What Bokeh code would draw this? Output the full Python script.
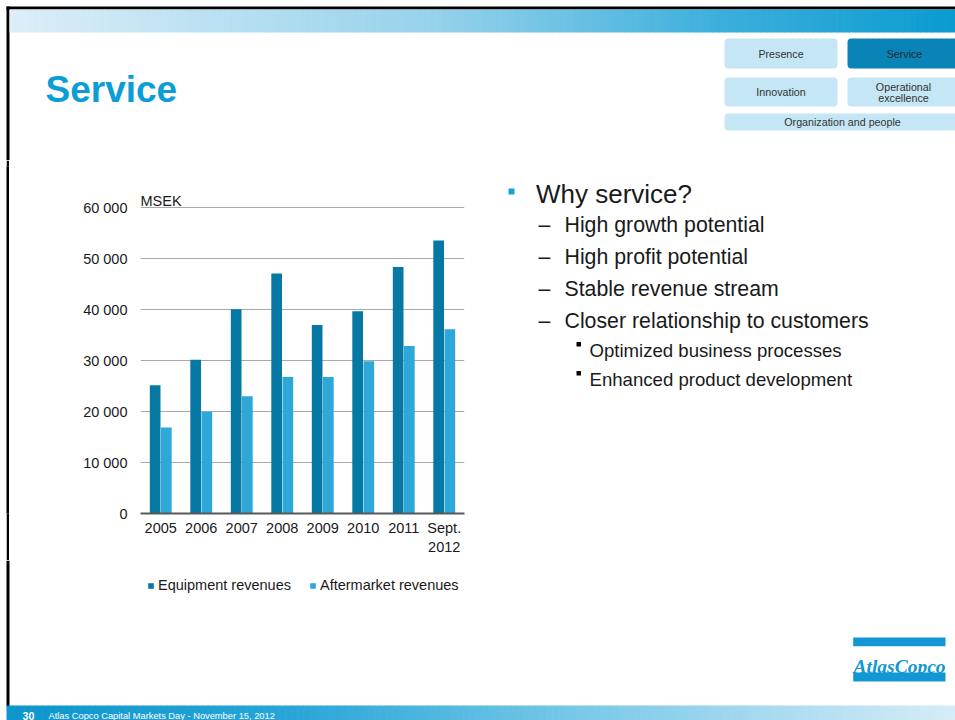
import numpy as np
from bokeh.plotting import figure
from bokeh.models import (Range1d, FactorRange, FixedTicker, Legend, LegendItem,
                          ColumnDataSource, Spacer)
from bokeh.layouts import row, column
from bokeh.transform import dodge
from bokeh.core.properties import value
from bokeh.embed import file_html
from bokeh.resources import INLINE

# ---------------- data ----------------
years = ["2005", "2006", "2007", "2008", "2009", "2010", "2011", "Sept.\n2012"]
equipment = [25200, 30200, 40100, 47100, 37000, 39700, 48400, 53600]
aftermarket = [16900, 20000, 23000, 26800, 26800, 29900, 32900, 36200]
y_ticks = [0, 10000, 20000, 30000, 40000, 50000, 60000]
y_tick_labels = ["0", "10 000", "20 000", "30 000", "40 000", "50 000", "60 000"]
series_names = ["Equipment revenues", "Aftermarket revenues"]
unit_label = "MSEK"

title_text = "Service"
nav_labels = ["Presence", "Service", "Innovation", "Operational", "excellence", "Organization and people"]
bullet_l1 = "Why service?"
bullets_l2 = ["High growth potential", "High profit potential", "Stable revenue stream",
              "Closer relationship to customers"]
bullets_l3 = ["Optimized business processes", "Enhanced product development"]
footer_page = "30"
footer_text = "Atlas Copco Capital Markets Day - November 15, 2012"
logo_text = "AtlasCopco"

FONT = "Liberation Sans"
F = value(FONT)
EQ_COLOR = "#0579a3"
AM_COLOR = "#2da8d8"
BLUE = "#0b9dd5"
INK = "#1a1a1a"

MID_TOP, MID_H = 160, 400          # middle band: y 160..560
BT, BB = 6, 47                      # shared top / bottom borders of the middle band
FRAME_TOP = MID_TOP + BT            # 166
FRAME_BOT = MID_TOP + MID_H - BB    # 513


def canvas(w, h, x0, x1, y0, y1, **kw):
    c = figure(width=w, height=h, x_range=Range1d(x0, x1), y_range=Range1d(y1, y0),
               toolbar_location=None, output_backend="svg",
               x_axis_location=None, y_axis_location=None, **kw)
    c.grid.visible = False
    c.outline_line_color = None
    c.background_fill_color = "white"
    c.border_fill_color = "white"
    return c


def gradient(c, x0, x1, top, bottom, stops, n=160):
    xs = np.linspace(x0, x1, n + 1)
    pos = (xs[:-1] + xs[1:]) / 2
    t = (pos - x0) / (x1 - x0)
    sp = [s[0] for s in stops]
    cols = []
    for tt in t:
        rgb = [int(round(np.interp(tt, sp, [s[1][k] for s in stops]))) for k in range(3)]
        cols.append("#%02x%02x%02x" % tuple(rgb))
    c.quad(left=xs[:-1], right=xs[1:] + 0.6, top=top, bottom=bottom,
           fill_color=cols, line_color=None)


# ---------------- header (y 0..160) ----------------
hdr = canvas(955, 160, 0, 955, 0, 160, min_border=0)
hdr.quad(left=[6], right=[9], top=[6], bottom=[160], fill_color="black", line_color=None)
hdr.quad(left=[6], right=[955], top=[6], bottom=[9], fill_color="black", line_color=None)
gradient(hdr, 9, 955, 9, 32,
         [(0.0, (220, 238, 248)), (0.45, (150, 210, 235)), (0.75, (60, 175, 220)), (1.0, (10, 155, 208))])
hdr.text(x=[45], y=[89], text=[title_text], text_font=F, text_font_size="37px",
         text_font_style="bold", text_color=BLUE, text_baseline="alphabetic", text_align="left")

nav_l = [724, 847, 724, 847, 724]
nav_r = [837, 962, 837, 962, 962]
nav_t = [38, 38, 77, 77, 113]
nav_b = [68, 68, 106, 106, 130]
nav_fill = ["#c4e6f5", "#0a84b6", "#c4e6f5", "#c4e6f5", "#c4e6f5"]
hdr.quad(left=nav_l, right=nav_r, top=nav_t, bottom=nav_b, fill_color=nav_fill,
         line_color=None, border_radius=4)
hdr.text(x=[780.5, 904, 780.5, 903, 903, 842], y=[53, 53, 91.5, 86, 97, 121.5], text=nav_labels,
         text_font=F, text_font_size="10.7px",
         text_color=["#333333", "#1a2a33", "#333333", "#333333", "#333333", "#333333"],
         text_align="center", text_baseline="middle")

# ---------------- middle band: white margin + black edge ----------------
gap = Spacer(width=6, height=MID_H)
edge = canvas(3, MID_H, 0, 3, FRAME_TOP, FRAME_BOT, min_border=0,
              min_border_top=BT, min_border_bottom=BB)
edge.background_fill_color = "black"
edge.border_fill_color = "black"

# ---------------- chart (x 9..480, y 160..560) ----------------
src = ColumnDataSource(dict(year=years, equipment=equipment, aftermarket=aftermarket))
p = figure(width=471, height=MID_H, x_range=FactorRange(factors=years), y_range=Range1d(0, 68130),
           toolbar_location=None, output_backend="svg",
           min_border_left=131, min_border_right=16, min_border_top=BT, min_border_bottom=BB)
p.outline_line_color = None
p.background_fill_color = "white"
p.border_fill_color = "white"

r1 = p.vbar(x=dodge("year", -0.138, range=p.x_range), top="equipment", width=0.264, source=src,
            fill_color=EQ_COLOR, line_color=None)
r2 = p.vbar(x=dodge("year", 0.138, range=p.x_range), top="aftermarket", width=0.264, source=src,
            fill_color=AM_COLOR, line_color=None)

ticker = FixedTicker(ticks=y_ticks)
p.yaxis.ticker = ticker
p.ygrid.ticker = ticker
p.yaxis.major_label_overrides = {t: l for t, l in zip(y_ticks, y_tick_labels)}
p.ygrid.grid_line_color = "#a8a8a8"
p.ygrid.grid_line_width = 1
p.xgrid.grid_line_color = None

p.yaxis.axis_line_color = None
p.yaxis.major_tick_line_color = None
p.yaxis.minor_tick_line_color = None
p.yaxis.major_tick_out = 0
p.yaxis.major_tick_in = 0
p.yaxis.major_label_standoff = 13

p.xaxis.axis_line_color = "#595959"
p.xaxis.axis_line_width = 2
p.xaxis.major_tick_line_color = None
p.xaxis.major_tick_out = 0
p.xaxis.major_tick_in = 0
p.xaxis.major_label_standoff = 6

for ax in (p.xaxis, p.yaxis):
    ax.major_label_text_font = FONT
    ax.major_label_text_font_size = "14.5px"
    ax.major_label_text_color = INK

p.text(x=["2005"], y=[61300], text=[unit_label], x_offset=-20.25, text_font=F,
       text_font_size="14.5px", text_color=INK, text_align="left", text_baseline="alphabetic")

# ---------------- bullet text (x 480..955) ----------------
txt = canvas(475, MID_H, 480, 955, FRAME_TOP, FRAME_BOT, min_border=0,
             min_border_top=BT, min_border_bottom=BB)
txt.quad(left=[508], right=[514], top=[188], bottom=[194], fill_color="#19a0d9", line_color=None)
txt.text(x=[535.5], y=[193], text=[bullet_l1], text_font=F, text_font_size="26px",
         text_color=INK, text_baseline="alphabetic")
l2_y = [224, 256, 288, 320]
txt.text(x=[538] * 4, y=l2_y, text=["\u2013"] * 4, text_font=F, text_font_size="21.3px",
         text_color=INK, text_baseline="alphabetic")
txt.text(x=[564] * 4, y=l2_y, text=bullets_l2, text_font=F, text_font_size="21.3px",
         text_color=INK, text_baseline="alphabetic")
l3_y = [350, 379]
txt.quad(left=[576, 576], right=[580.5, 580.5], top=[341.5, 370.5], bottom=[346, 375],
         fill_color="black", line_color=None)
txt.text(x=[589] * 2, y=l3_y, text=bullets_l3, text_font=F, text_font_size="18.6px",
         text_color=INK, text_baseline="alphabetic")

# ---------------- footer (y 560..720): legend, logo, band ----------------
ftr = canvas(955, 160, 0, 955, 560, 720, min_border=0)
ftr.quad(left=[6], right=[9], top=[560], bottom=[706], fill_color="black", line_color=None)
# legend swatches: renderers styled like the bar series, placed outside the visible area
lg1 = ftr.vbar(x=[-100], top=[-100], bottom=[-110], width=1, fill_color=EQ_COLOR, line_color=None)
lg2 = ftr.vbar(x=[-100], top=[-100], bottom=[-110], width=1, fill_color=AM_COLOR, line_color=None)
legend = Legend(items=[LegendItem(label=series_names[0], renderers=[lg1]),
                       LegendItem(label=series_names[1], renderers=[lg2])],
                orientation="horizontal", location=(147, 127), glyph_width=7, glyph_height=7,
                label_standoff=4, spacing=18, padding=0, margin=0,
                border_line_color=None, background_fill_alpha=0,
                label_text_font=FONT, label_text_font_size="14.5px", label_text_color=INK)
ftr.add_layout(legend, "center")

ftr.quad(left=[852.7, 852.7], right=[945, 945], top=[637, 672], bottom=[645.7, 681],
         fill_color="#1197d3", line_color=None)
ftr.text(x=[899], y=[666], text=[logo_text], text_font=value("Liberation Serif"),
         text_font_size="19.5px", text_font_style="bold italic", text_color="#1197d3",
         text_align="center", text_baseline="alphabetic")
gradient(ftr, 6, 955, 705, 720,
         [(0.0, (12, 150, 205)), (0.3, (40, 165, 215)), (0.6, (120, 200, 232)), (1.0, (215, 236, 247))])
ftr.text(x=[22], y=[715], text=[footer_page], text_font=F, text_font_size="10.7px",
         text_font_style="bold", text_color="white", text_baseline="alphabetic")
ftr.text(x=[48], y=[715], text=[footer_text], text_font=F, text_font_size="9.3px",
         text_color="white", text_baseline="alphabetic")

layout = column(hdr, row(gap, edge, p, txt), ftr)

open("out.html", "w").write(file_html(layout, INLINE))
